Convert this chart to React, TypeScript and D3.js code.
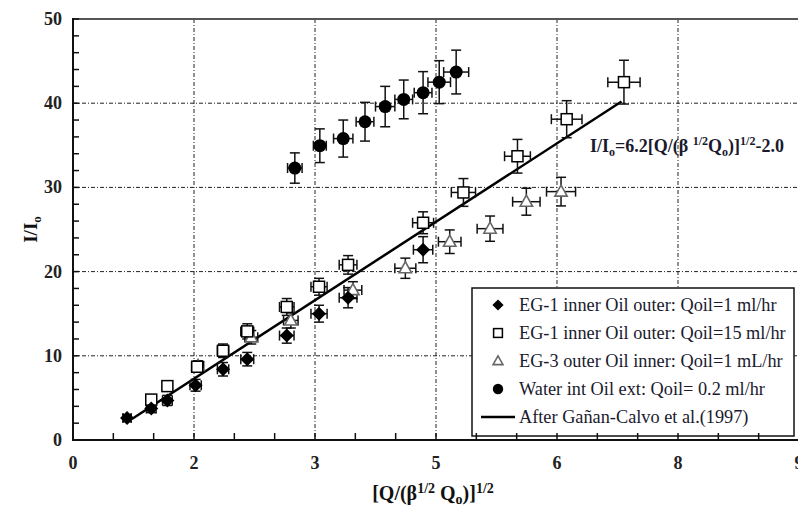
import React from 'react';
import * as d3 from 'd3';

// EG-1 inner / Oil outer, Qoil = 1 ml/hr (filled diamonds)
const diamondX = [0.67, 0.97, 1.17, 1.52, 1.86, 2.16, 2.65, 3.05, 3.41, 4.34];
const diamondY = [2.6, 3.75, 4.7, 6.5, 8.4, 9.6, 12.4, 15.0, 16.9, 22.6];
const diamondXErr = [0.05, 0.06, 0.06, 0.07, 0.07, 0.08, 0.09, 0.1, 0.11, 0.12];
const diamondYErr = [0.4, 0.5, 0.6, 0.7, 0.8, 0.8, 0.9, 1.0, 1.2, 1.55];

// EG-1 inner / Oil outer, Qoil = 15 ml/hr (open squares)
const squareX = [0.97, 1.17, 1.54, 1.86, 2.16, 2.65, 3.05, 3.41, 4.34, 4.84, 5.51, 6.12, 6.83];
const squareY = [4.8, 6.4, 8.7, 10.6, 12.9, 15.8, 18.2, 20.8, 25.8, 29.4, 33.7, 38.1, 42.5];
const squareXErr = [0.05, 0.06, 0.07, 0.07, 0.08, 0.09, 0.1, 0.11, 0.13, 0.15, 0.16, 0.19, 0.2];
const squareYErr = [0.4, 0.5, 0.6, 0.8, 0.9, 1.0, 1.0, 1.1, 1.3, 1.65, 2.0, 2.2, 2.6];

// EG-3 outer / Oil inner, Qoil = 1 mL/hr (open triangles)
const triX = [1.55, 2.21, 2.7, 3.47, 4.12, 4.67, 5.17, 5.62, 6.05];
const triY = [8.8, 12.2, 14.2, 17.8, 20.4, 23.55, 25.1, 28.3, 29.5];
const triXErr = [0.07, 0.08, 0.09, 0.11, 0.13, 0.14, 0.16, 0.17, 0.18];
const triYErr = [0.6, 0.8, 0.9, 1.0, 1.2, 1.4, 1.5, 1.6, 1.7];

// Water int / Oil ext, Qoil = 0.2 ml/hr (filled circles)
const circX = [2.75, 3.06, 3.35, 3.62, 3.87, 4.1, 4.34, 4.54, 4.75];
const circY = [32.3, 34.95, 35.8, 37.8, 39.6, 40.45, 41.25, 42.5, 43.7];
const circXErr = [0.09, 0.08, 0.12, 0.11, 0.12, 0.11, 0.11, 0.14, 0.155];
const circYErr = [1.8, 2.0, 2.2, 2.3, 2.4, 2.3, 2.5, 2.55, 2.6];

// After Gañan-Calvo et al. (1997)
const fitX = [0.73, 6.8];
const fitY = [2.5, 40.2];

const xTicks = [0, 1.5, 3, 4.5, 6, 7.5, 9];
const xTickLabels = ['0', '2', '3', '5', '6', '8', '9'];
const yTicks = [0, 10, 20, 30, 40, 50];

const legendLabels = [
  'EG-1 inner Oil outer: Qoil=1 ml/hr',
  'EG-1 inner Oil outer: Qoil=15 ml/hr',
  'EG-3 outer Oil inner: Qoil=1 mL/hr',
  'Water int Oil ext: Qoil= 0.2 ml/hr',
  'After Gañan-Calvo et al.(1997)',
];

const W = 798;
const H = 511;
const left = 73, right = 799, top = 19, bottom = 440;
const font = '"Liberation Serif", "Times New Roman", serif';

const x = d3.scaleLinear().domain([0, 9]).range([left, right]);
const y = d3.scaleLinear().domain([0, 50]).range([bottom, top]);

const zip = (xs: number[], ys: number[], xe: number[], ye: number[]) =>
  xs.map((v, i) => ({ x: v, y: ys[i], xe: xe[i], ye: ye[i] }));

const diamonds = zip(diamondX, diamondY, diamondXErr, diamondYErr);
const squares = zip(squareX, squareY, squareXErr, squareYErr);
const tris = zip(triX, triY, triXErr, triYErr);
const circles = zip(circX, circY, circXErr, circYErr);

type Pt = { x: number; y: number; xe: number; ye: number };

const ErrorBars = ({ pts }: { pts: Pt[] }) => (
  <g stroke="#111" strokeWidth={1.5} fill="none">
    {pts.map((d, i) => {
      const cx = x(d.x), cy = y(d.y);
      const y0 = y(d.y - d.ye), y1 = y(d.y + d.ye);
      const x0 = x(d.x - d.xe), x1 = x(d.x + d.xe);
      const cap = 5;
      return (
        <g key={i}>
          <line x1={cx} x2={cx} y1={y0} y2={y1} />
          <line x1={cx - cap} x2={cx + cap} y1={y0} y2={y0} />
          <line x1={cx - cap} x2={cx + cap} y1={y1} y2={y1} />
          <line x1={x0} x2={x1} y1={cy} y2={cy} />
          <line x1={x0} x2={x0} y1={cy - cap} y2={cy + cap} />
          <line x1={x1} x2={x1} y1={cy - cap} y2={cy + cap} />
        </g>
      );
    })}
  </g>
);

const diamondPath = (cx: number, cy: number, r: number) =>
  `M${cx},${cy - r}L${cx + r},${cy}L${cx},${cy + r}L${cx - r},${cy}Z`;
const triPath = (cx: number, cy: number, r: number) =>
  `M${cx},${cy - r}L${cx + r * 0.95},${cy + r * 0.7}L${cx - r * 0.95},${cy + r * 0.7}Z`;

const Marker = ({ kind, cx, cy, s = 1 }: { kind: string; cx: number; cy: number; s?: number }) => {
  if (kind === 'diamond') return <path d={diamondPath(cx, cy, 7 * s)} fill="#000" />;
  if (kind === 'square')
    return (
      <rect x={cx - 5.5 * s} y={cy - 5.5 * s} width={11 * s} height={11 * s}
        fill="#fff" stroke="#000" strokeWidth={1.5} />
    );
  if (kind === 'tri') return <path d={triPath(cx, cy, 6.5 * s)} fill="#fff" stroke="#666" strokeWidth={1.6} />;
  return <circle cx={cx} cy={cy} r={6.5 * s} fill="#000" />;
};

const App = () => {
  const xMinor = d3.range(0, 9.01, 0.5);
  const yMinor = d3.range(0, 50.01, 2);
  const line = d3.line<number>().x((d, i) => x(fitX[i])).y(d => y(d));
  const legendKinds = ['diamond', 'square', 'tri', 'circle', 'line'];
  const lgX = 472, lgY = 288, lgW = 322, lgH = 148;

  return (
    <svg width={W} height={H} style={{ position: 'absolute', left: 0, top: 0, background: '#fff' }}
      fontFamily={font}>
      {/* grid */}
      <g stroke="#222" strokeWidth={1} strokeDasharray="4,2,1,2">
        {xTicks.slice(1, -1).map(t => (
          <line key={'gx' + t} x1={x(t)} x2={x(t)} y1={top} y2={bottom} />
        ))}
        {yTicks.slice(1, -1).map(t => (
          <line key={'gy' + t} x1={left} x2={right} y1={y(t)} y2={y(t)} />
        ))}
      </g>

      {/* fit line */}
      <path d={line(fitY) || ''} stroke="#000" strokeWidth={2.5} fill="none" />

      {/* error bars */}
      <ErrorBars pts={circles} />
      <ErrorBars pts={tris} />
      <ErrorBars pts={squares} />
      <ErrorBars pts={diamonds} />

      {/* markers */}
      {tris.map((d, i) => <Marker key={'t' + i} kind="tri" cx={x(d.x)} cy={y(d.y)} />)}
      {squares.map((d, i) => <Marker key={'s' + i} kind="square" cx={x(d.x)} cy={y(d.y)} />)}
      {diamonds.map((d, i) => <Marker key={'d' + i} kind="diamond" cx={x(d.x)} cy={y(d.y)} />)}
      {circles.map((d, i) => <Marker key={'c' + i} kind="circle" cx={x(d.x)} cy={y(d.y)} />)}

      {/* legend */}
      <rect x={lgX} y={lgY} width={lgW} height={lgH} fill="#fff" stroke="#111" strokeWidth={1.5} />
      {legendLabels.map((lab, i) => {
        const cy = lgY + 17 + i * 28;
        return (
          <g key={lab}>
            {legendKinds[i] === 'line' ? (
              <line x1={481} x2={515} y1={cy} y2={cy} stroke="#000" strokeWidth={2.5} />
            ) : (
              <Marker kind={legendKinds[i]} cx={498} cy={cy} s={0.8} />
            )}
            <text x={519} y={cy + 6} fontSize={18.3} fill="#1a1a2e">{lab}</text>
          </g>
        );
      })}

      {/* frame */}
      <line x1={left} x2={right} y1={top} y2={top} stroke="#555" strokeWidth={2} />
      <line x1={left} x2={left} y1={top - 1} y2={bottom + 1} stroke="#111" strokeWidth={2} />
      <line x1={left - 1} x2={right} y1={bottom} y2={bottom} stroke="#111" strokeWidth={2} />

      {/* ticks (inside) */}
      <g stroke="#111" strokeWidth={1.5}>
        {xMinor.map(t => (
          <line key={'tx' + t} x1={x(t)} x2={x(t)} y1={bottom} y2={bottom - 7} />
        ))}
        {yMinor.map(t => (
          <line key={'ty' + t} x1={left} x2={left + 6} y1={y(t)} y2={y(t)} />
        ))}
      </g>

      {/* tick labels */}
      <g fontWeight="bold" fontSize={18} fill="#222">
        {xTicks.map((t, i) => (
          <text key={'lx' + t} x={x(t)} y={469} textAnchor="middle">{xTickLabels[i]}</text>
        ))}
        {yTicks.map(t => (
          <text key={'ly' + t} x={62} y={y(t) + 6} textAnchor="end">{t}</text>
        ))}
      </g>

      {/* axis titles */}
      <text transform={`translate(37,${(top + bottom) / 2}) rotate(-90)`} textAnchor="middle"
        fontWeight="bold" fontSize={19} fill="#111">
        I/I<tspan fontSize={13} dy={4}>o</tspan>
      </text>
      <text x={433} y={500} textAnchor="middle" fontWeight="bold" fontSize={20} fill="#111">
        [Q/(β<tspan fontSize={14} dy={-7}>1/2</tspan>
        <tspan dy={7}> Q</tspan><tspan fontSize={14} dy={4}>o</tspan>
        <tspan dy={-4}>)]</tspan><tspan fontSize={14} dy={-7}>1/2</tspan>
      </text>

      {/* equation annotation */}
      <text x={590} y={152} fontWeight="bold" fontSize={18} fill="#1a1a2e">
        I/I<tspan fontSize={12} dy={4}>o</tspan>
        <tspan dy={-4}>=6.2[Q/(β </tspan><tspan fontSize={12} dy={-7}>1/2</tspan>
        <tspan dy={7}>Q</tspan><tspan fontSize={12} dy={4}>o</tspan>
        <tspan dy={-4}>)]</tspan><tspan fontSize={12} dy={-7}>1/2</tspan>
        <tspan dy={7}>-2.0</tspan>
      </text>
    </svg>
  );
};

export default App;
